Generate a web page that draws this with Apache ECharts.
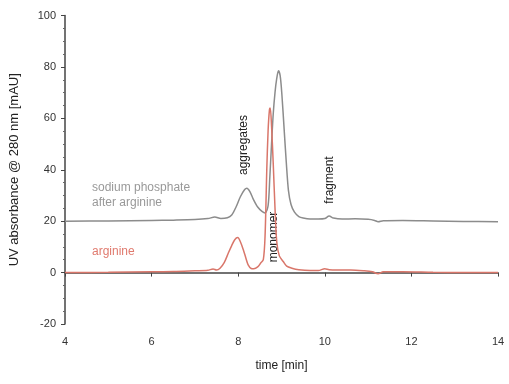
<!DOCTYPE html>
<html><head><meta charset="utf-8">
<script src="https://cdn.jsdelivr.net/npm/echarts@6/dist/echarts.min.js"></script>
<style>html,body{margin:0;padding:0;background:#fff}#c{width:509px;height:384px}</style>
</head><body><div id="c"></div>
<script>
const xTicks = [4, 6, 8, 10, 12, 14];
const yTicks = [-20, 0, 20, 40, 60, 80, 100];

const grayTime = [4, 5, 6, 6.5, 7, 7.3, 7.46, 7.6, 7.75, 7.85, 7.95, 8.05, 8.15, 8.2, 8.27, 8.35, 8.45, 8.55, 8.62, 8.69, 8.73, 8.77, 8.81, 8.85, 8.89, 8.93, 8.97, 9.01, 9.06, 9.11, 9.16, 9.22, 9.3, 9.4, 9.5, 9.66, 9.85, 10.0, 10.1, 10.2, 10.4, 10.7, 11.0, 11.15, 11.23, 11.35, 11.8, 12.5, 13.2, 14];
const grayAbs  = [20.0, 20.1, 20.3, 20.4, 20.6, 21.0, 21.6, 21.0, 21.3, 22.4, 25.5, 29.5, 32.3, 32.8, 31.5, 28.5, 25.5, 23.8, 23.2, 26, 37, 50, 62, 70, 75.5, 78.5, 76.5, 69, 56, 43, 32, 26.5, 23.5, 21.8, 21.2, 20.8, 20.8, 21.0, 22.0, 21.2, 20.8, 20.9, 20.7, 20.3, 19.8, 20.2, 20.3, 20.1, 19.9, 19.8];

const redTime = [4, 5, 6, 6.5, 7, 7.3, 7.42, 7.5, 7.58, 7.68, 7.77, 7.85, 7.92, 7.99, 8.05, 8.12, 8.18, 8.23, 8.3, 8.36, 8.45, 8.52, 8.58, 8.62, 8.66, 8.69, 8.72, 8.74, 8.77, 8.81, 8.85, 8.89, 8.95, 9.04, 9.12, 9.24, 9.4, 9.66, 9.85, 10.0, 10.1, 10.3, 10.6, 10.9, 11.1, 11.23, 11.35, 11.8, 12.5, 13.2, 14];
const redAbs  = [0, 0.1, 0.3, 0.4, 0.7, 0.9, 1.4, 1.0, 1.7, 4, 7.5, 10.5, 12.8, 13.6, 12, 8.8, 5.5, 3, 1.6, 1.5, 2.2, 3.7, 5, 14, 40, 55, 63, 64, 57, 42, 25, 12, 6.5, 4.3, 2.5, 1.7, 1.1, 0.8, 0.8, 1.5, 1.1, 1.0, 1.0, 0.7, 0.3, -0.5, 0.3, 0.3, 0.1, 0.0, 0.0];

const FONT = 'Liberation Sans';
const chart = echarts.init(document.getElementById('c'), null, {renderer: 'canvas'});
const pair = (xs, ys) => xs.map((x, i) => [x, ys[i]]);

chart.setOption({
  animation: false,
  backgroundColor: '#fff',
  grid: {left: 65, right: 11, top: 15.5, bottom: 60},
  xAxis: {
    type: 'value', min: xTicks[0], max: xTicks[xTicks.length - 1], interval: 2,
    name: 'time [min]', nameLocation: 'middle', nameGap: 36,
    nameTextStyle: {fontFamily: FONT, fontSize: 12, color: '#222'},
    axisLine: {lineStyle: {color: '#444', width: 1.5}},
    axisTick: {show: true, length: 4, lineStyle: {color: '#444'}},
    axisLabel: {fontFamily: FONT, fontSize: 11, color: '#333', margin: 12},
    splitLine: {show: false}
  },
  yAxis: {
    type: 'value', min: yTicks[0], max: yTicks[yTicks.length - 1], interval: 20,
    name: 'UV absorbance @ 280 nm [mAU]', nameLocation: 'middle', nameGap: 44,
    nameTextStyle: {fontFamily: FONT, fontSize: 13, color: '#222'},
    axisLine: {show: true, lineStyle: {color: '#444', width: 1.5}},
    axisTick: {show: true, length: 4, lineStyle: {color: '#444'}},
    minorTick: {show: true, splitNumber: 4, length: 2, lineStyle: {color: '#666'}},
    axisLabel: {fontFamily: FONT, fontSize: 11, color: '#333', margin: 9},
    splitLine: {show: false}
  },
  series: [
    {type: 'line', data: pair(grayTime, grayAbs), showSymbol: false, smooth: 0.3,
     lineStyle: {color: '#8c8c8c', width: 1.5}, z: 2},
    {type: 'line', data: pair(redTime, redAbs), showSymbol: false, smooth: 0.3,
     lineStyle: {color: '#d9766a', width: 1.5}, z: 3}
  ],
  graphic: [
    {type: 'text', left: 92, top: 180, style: {text: 'sodium phosphate\nafter arginine', fontFamily: FONT, fontSize: 12, fill: '#999', lineHeight: 15}},
    {type: 'text', left: 92, top: 246, style: {text: 'arginine', fontFamily: FONT, fontSize: 12, fill: '#e07a6e'}},
    {type: 'text', x: 244, y: 145, rotation: Math.PI / 2, style: {text: 'aggregates', fontFamily: FONT, fontSize: 12, fill: '#222', align: 'center', verticalAlign: 'middle'}},
    {type: 'text', x: 274, y: 237, rotation: Math.PI / 2, style: {text: 'monomer', fontFamily: FONT, fontSize: 12, fill: '#222', align: 'center', verticalAlign: 'middle'}},
    {type: 'text', x: 330, y: 180, rotation: Math.PI / 2, style: {text: 'fragment', fontFamily: FONT, fontSize: 12, fill: '#222', align: 'center', verticalAlign: 'middle'}}
  ]
});
</script></body></html>
